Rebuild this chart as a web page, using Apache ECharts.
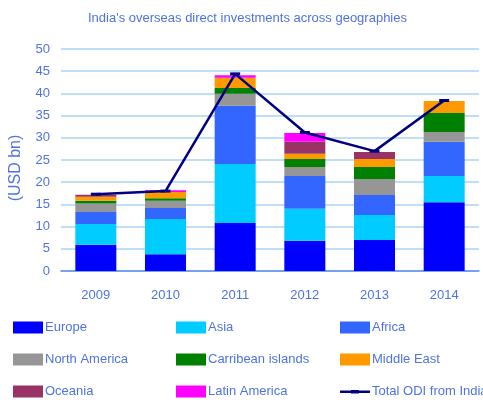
<!DOCTYPE html>
<html>
<head>
<meta charset="utf-8">
<script src="https://cdn.jsdelivr.net/npm/echarts@6/dist/echarts.min.js"></script>
<style>
  html, body { margin: 0; padding: 0; background: #fff; }
  #chart { width: 483px; height: 400px; }
</style>
</head>
<body>
<div id="chart"></div>
<script>
// 数据
const years = ['2009', '2010', '2011', '2012', '2013', '2014'];
const europe = [5.9, 3.8, 10.8, 6.8, 7.0, 15.5];
const asia = [4.7, 7.9, 13.3, 7.2, 5.6, 5.9];
const africa = [2.7, 2.5, 13.1, 7.4, 4.5, 7.7];
const northAmerica = [1.9, 1.6, 2.7, 2.0, 3.6, 2.2];
const carribean = [0.6, 0.6, 1.3, 1.8, 2.7, 4.3];
const middleEast = [0.9, 1.4, 2.3, 1.2, 1.8, 2.7];
const oceania = [0.5, 0, 0, 2.7, 1.6, 0];
const latinAmerica = [0, 0.4, 0.6, 2.0, 0, 0];
const totalOdi = [17.3, 18.0, 44.4, 31.2, 27.0, 38.4];

const textColor = '#4f73e3';
const fontFamily = '"Liberation Sans", Arial, sans-serif';

const chart = echarts.init(document.getElementById('chart'));

const barSeries = [
  { name: 'Europe', data: europe, color: '#0000ff' },
  { name: 'Asia', data: asia, color: '#00ccff' },
  { name: 'Africa', data: africa, color: '#3366ff' },
  { name: 'North America', data: northAmerica, color: '#969696' },
  { name: 'Carribean islands', data: carribean, color: '#008000' },
  { name: 'Middle East', data: middleEast, color: '#ff9900' },
  { name: 'Oceania', data: oceania, color: '#993366' },
  { name: 'Latin America', data: latinAmerica, color: '#ff00ff' },
].map((s) => ({
  name: s.name,
  type: 'bar',
  stack: 'odi',
  barWidth: 41,
  data: s.data,
  itemStyle: { color: s.color },
}));

// 折线图例：细线 + 中间短横
const lineIcon = 'path://M0,0 M30,12 M0,5 L30,5 L30,7.4 L0,7.4 Z M11,4.4 L19,4.4 L19,8 L11,8 Z';

const legendBase = {
  orient: 'vertical',
  top: 321,
  icon: 'rect',
  itemWidth: 30,
  itemHeight: 12,
  itemGap: 19,
  padding: 0,
  textStyle: { color: textColor, fontSize: 13, fontFamily, padding: [0, 0, 0, -3] },
};

const option = {
  animation: false,
  backgroundColor: '#fff',
  title: {
    text: "India's overseas direct investments across geographies",
    left: 83,
    top: 7,
    textStyle: { color: textColor, fontSize: 13, fontWeight: 'normal', fontFamily },
  },
  legend: [
    Object.assign({}, legendBase, { left: 13, data: ['Europe', 'North America', 'Oceania'] }),
    Object.assign({}, legendBase, { left: 176, data: ['Asia', 'Carribean islands', 'Latin America'] }),
    Object.assign({}, legendBase, {
      left: 340,
      data: ['Africa', 'Middle East', { name: 'Total ODI from India', icon: lineIcon }],
    }),
  ],
  grid: { left: 57, right: 4, top: 49, bottom: 129 },
  xAxis: {
    type: 'category',
    data: years,
    axisTick: { show: false },
    axisLine: { lineStyle: { color: '#5b8ef0', width: 1.5 } },
    axisLabel: { color: textColor, fontSize: 13, fontFamily, margin: 18 },
  },
  yAxis: {
    type: 'value',
    min: 0,
    max: 50,
    interval: 5,
    name: '(USD bn)',
    nameLocation: 'middle',
    nameGap: 37,
    nameTextStyle: { color: textColor, fontSize: 16, fontFamily, padding: [0, 16, 0, 0] },
    axisLine: { show: false },
    axisTick: { show: false },
    axisLabel: { color: textColor, fontSize: 13, fontFamily, margin: 11 },
    splitLine: { lineStyle: { color: '#a9d3f7', width: 1.5 } },
  },
  series: barSeries.concat([
    {
      name: 'Total ODI from India',
      type: 'line',
      data: totalOdi,
      symbol: 'rect',
      symbolSize: [10, 3],
      color: '#000080',
      lineStyle: { color: '#000080', width: 2.5 },
      itemStyle: { color: '#000080' },
      z: 5,
    },
  ]),
};

chart.setOption(option);
</script>
</body>
</html>
